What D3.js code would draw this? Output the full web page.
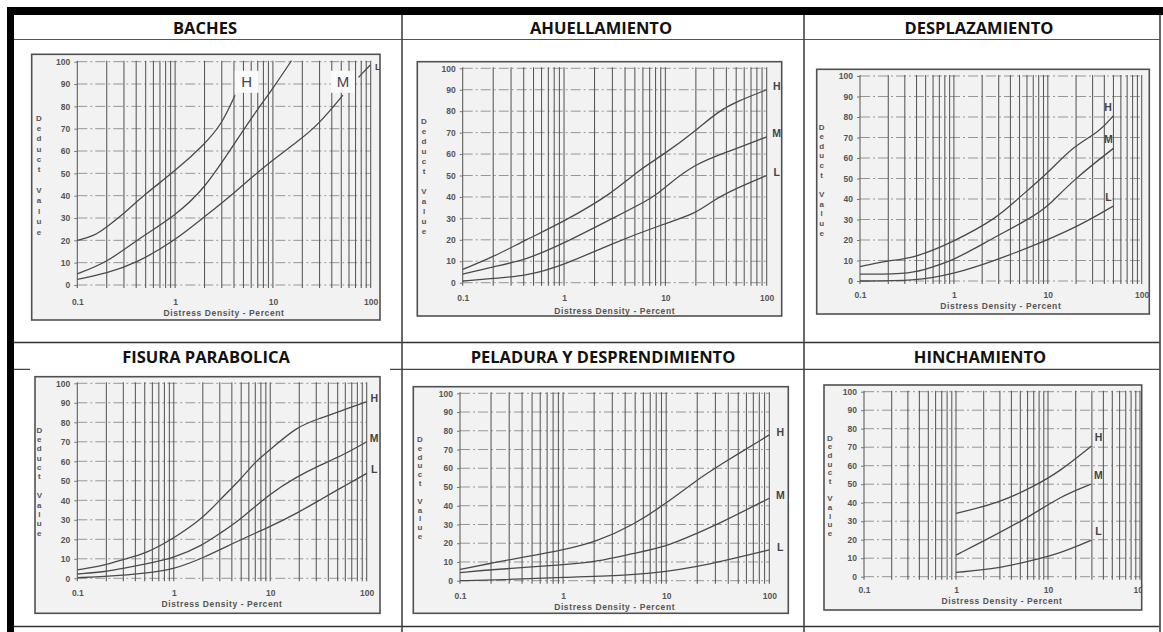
<!DOCTYPE html>
<html><head><meta charset="utf-8">
<script src="https://cdn.jsdelivr.net/npm/d3@7"></script>
<style>body{margin:0;background:#fff}svg{display:block}</style>
</head><body>
<svg id="c" width="1163" height="632"></svg>
<script>
// ---------------- DATA ----------------
const panelTitles = ["BACHES","AHUELLAMIENTO","DESPLAZAMIENTO","FISURA PARABOLICA","PELADURA Y DESPRENDIMIENTO","HINCHAMIENTO"];
const xTickValues = [0.1, 1, 10, 100];
const xTickLabels = ["0.1", "1", "10", "100"];
const yTickValues = [0,10,20,30,40,50,60,70,80,90,100];
const xAxisTitle = "Distress Density - Percent";
const yAxisTitle = "Deduct Value";
const severityLabels = ["H","M","L"];

// BACHES (four visible curve pieces)
const bachesCurveA = [[0.1,20],[0.15,22],[0.2,26],[0.3,32],[0.5,41],[1,51],[2,63],[3,72],[4.1,85]];
const bachesCurveB = [[0.1,5],[0.2,10],[0.4,20],[1,31],[2,43],[4,63],[6.3,76],[10,88],[15.5,100.5]];
const bachesCurveC = [[0.1,2.5],[0.2,5.2],[0.4,9.7],[1,20],[1.8,29],[4,41],[8,53],[19,65],[30,72.4],[52,85]];
const bachesCurveD = [[75,93],[99,98.5]];
const bachesLabelAt = [[5.4,91],[52,91],[118,97.5]];

// AHUELLAMIENTO
const ahuH = [[0.1,6.2],[0.2,12],[0.42,20],[1,28.5],[3,41.7],[5.2,51.8],[10,60.3],[20,71],[33,79.8],[50,84.4],[100,90]];
const ahuM = [[0.1,4],[0.2,7.5],[0.42,10.6],[1,18.4],[3,30],[7.9,40],[10,44.8],[20,55.7],[41,61],[100,68]];
const ahuL = [[0.1,0.8],[0.2,2],[0.42,3.1],[1,8.2],[3,18.4],[10,27.7],[20,32.3],[30,38.6],[50,44],[100,50]];

// DESPLAZAMIENTO
const desH = [[0.1,7],[0.19,9.9],[0.37,11],[1,19.2],[2.85,30.6],[4.6,39.5],[10,52.5],[18.6,65.8],[35.7,72.8],[49.5,80.5]];
const desM = [[0.1,3.4],[0.37,3.4],[0.6,7],[1,10.2],[2.4,20],[7,31.4],[10,36.3],[18.6,49.3],[50,64.7]];
const desL = [[0.1,0],[0.38,0],[1,3.4],[2.85,10.2],[10,20],[23.8,28],[50,36.6]];

// FISURA PARABOLICA
const fisH = [[0.1,4.3],[0.2,6.8],[0.3,9.7],[0.52,12.8],[1,20.5],[2,30.8],[3,40.2],[4.86,50.4],[7.25,60.7],[10,65.8],[18.8,77.8],[32.8,82],[57,86.3],[100,90.6]];
const fisM = [[0.1,2.2],[0.2,3.4],[0.3,5.1],[0.52,7.4],[1,10.3],[2,17],[3,23],[4.86,30],[10,43.6],[18.8,52],[32.8,58],[57,63.2],[100,70]];
const fisL = [[0.1,0.3],[0.2,0.9],[0.52,2.6],[1,4.6],[2,10.3],[4.86,19.7],[10,26.5],[18.8,33.3],[32.8,40.2],[57,47],[100,53.8]];

// PELADURA Y DESPRENDIMIENTO
const pelH = [[0.1,6],[0.21,9.6],[0.41,12.5],[1,16.4],[2.1,20.8],[4.8,29.7],[10,41.3],[19.8,53.7],[33,61.7],[100,77.8]];
const pelM = [[0.1,4.3],[0.21,6],[1,8.4],[2.1,10.1],[4.8,14.6],[10,18.1],[19.8,25.3],[33,30.6],[100,44]];
const pelL = [[0.1,0],[0.24,0.4],[1,1.8],[4.8,3],[10,4.8],[19.8,7.5],[33,10.1],[100,16.4]];

// HINCHAMIENTO
const hinH = [[1,34.2],[2.97,40],[6.9,48.6],[13.4,56.8],[29.7,70.6]];
const hinM = [[1,11.7],[2.1,19.8],[6.3,32.4],[13.4,43.2],[29.7,50.1]];
const hinL = [[1,2.3],[3,4.5],[6.9,9],[13.4,12.6],[29.7,19.8]];

const panelCurves = [
  [bachesCurveA, bachesCurveB, bachesCurveC, bachesCurveD],
  [ahuH, ahuM, ahuL],
  [desH, desM, desL],
  [fisH, fisM, fisL],
  [pelH, pelM, pelL],
  [hinH, hinM, hinL]
];

// ---------------- LAYOUT (pixels) ----------------
const layout = [
  {titleX:205, titleY:27, frame:[31.7,54.3,380,320], plot:[77.3,61.7,370.7,285], tickY:305, axTitleY:316, dvX:39, dvY:[118,232]},
  {titleX:601, titleY:27, frame:[417.3,61.7,781.7,316], plot:[462.7,68.3,766.7,282.7], tickY:301.5, axTitleY:314, dvX:424, dvY:[121.7,231.7], lab:[10,-4]},
  {titleX:979, titleY:27, frame:[816.7,69.3,1149.3,314], plot:[860,76,1141.7,281], tickY:298, axTitleY:309, dvX:821.7, dvY:[127,233], lab:[-5,-9]},
  {titleX:206, titleY:356.5, frame:[35,376.7,380,613.3], plot:[77.3,383.3,366.7,578.3], tickY:596.5, axTitleY:606.5, dvX:39.3, dvY:[430,533.3], lab:[7.5,-4], image:[30,366,390,621]},
  {titleX:603, titleY:356.5, frame:[413.3,386.7,788.3,613.3], plot:[460,393.3,769.3,580.7], tickY:599, axTitleY:609.5, dvX:420, dvY:[439.3,536.7], lab:[11,-3]},
  {titleX:980, titleY:356.5, frame:[824,385,1141.7,610], plot:[864,391.7,1140,576.7], tickY:593, axTitleY:604, dvX:830, dvY:[438.3,533.3], lab:[7,-9.5]}
];

const svg = d3.select("#c");
const defs = svg.append("defs");

// ---------------- TABLE ----------------
const tbl = svg.append("g");
const hline = (y, x0, x1, w, c) => tbl.append("line").attr("x1",x0).attr("x2",x1).attr("y1",y).attr("y2",y).attr("stroke",c).attr("stroke-width",w);
const vline = (x, y0, y1, w, c) => tbl.append("line").attr("x1",x).attr("x2",x).attr("y1",y0).attr("y2",y1).attr("stroke",c).attr("stroke-width",w);
hline(39.5, 14, 1160, 1.2, "#555");
hline(342.5, 14, 1160, 1.6, "#333");
hline(369.3, 14, 1160, 1.2, "#444");
hline(626.5, 14, 1160, 1.6, "#333");
vline(402, 15, 632, 1.6, "#444");
vline(804, 15, 632, 1.6, "#444");
vline(1160, 15, 632, 1.8, "#555");
tbl.append("rect").attr("x",7).attr("y",7).attr("width",1156).attr("height",8).attr("fill","#000");
tbl.append("rect").attr("x",7).attr("y",7).attr("width",7).attr("height",625).attr("fill","#000");

// ---------------- PANELS ----------------
const txtFont = "'Liberation Sans', Arial, sans-serif";
panelCurves.forEach((curves, i) => {
  const L = layout[i];
  const g = svg.append("g");
  g.append("text").attr("x", L.titleX).attr("y", L.titleY).attr("text-anchor","middle")
    .attr("dominant-baseline","central")
    .attr("font-family","'Open Sans', sans-serif").attr("font-weight",700).attr("font-size",16.5)
    .attr("fill","#111").text(panelTitles[i]);
  if (L.image) {
    g.append("rect").attr("x",L.image[0]).attr("y",L.image[1]).attr("width",L.image[2]-L.image[0]).attr("height",L.image[3]-L.image[1]).attr("fill","#fff");
  }
  const [fx0, fy0, fx1, fy1] = L.frame;
  const cid = "clip" + i;
  defs.append("clipPath").attr("id", cid).append("rect").attr("x",fx0).attr("y",fy0).attr("width",fx1-fx0).attr("height",fy1-fy0);
  g.append("rect").attr("x",fx0).attr("y",fy0).attr("width",fx1-fx0).attr("height",fy1-fy0).attr("fill","#f2f2f2");
  const inner = g.append("g").attr("clip-path", `url(#${cid})`);

  const x = d3.scaleLog().domain([0.1, 100]).range([L.plot[0], L.plot[2]]);
  const y = d3.scaleLinear().domain([0, 100]).range([L.plot[3], L.plot[1]]);

  inner.append("g").selectAll("line").data(yTickValues).join("line")
    .attr("x1", L.plot[0]).attr("x2", L.plot[2]).attr("y1", d=>y(d)).attr("y2", d=>y(d))
    .attr("stroke","#969696").attr("stroke-width",1).attr("stroke-dasharray","10,3,2,3");
  inner.append("g").selectAll("line").data(x.ticks()).join("line")
    .attr("x1", d=>x(d)).attr("x2", d=>x(d)).attr("y1", L.plot[1]-1).attr("y2", L.plot[3]+3)
    .attr("stroke","#585858").attr("stroke-width",1.05);

  const ya = inner.append("g").attr("transform",`translate(${L.plot[0]},0)`)
    .call(d3.axisLeft(y).tickValues(yTickValues).tickSize(3).tickPadding(4));
  ya.select(".domain").remove();
  ya.selectAll("line").attr("stroke","#777");
  ya.selectAll("text").attr("font-family",txtFont).attr("font-weight",700).attr("font-size",8.5).attr("fill","#555");
  const xa = inner.append("g").attr("transform",`translate(0,${L.plot[3]})`)
    .call(d3.axisBottom(x).tickValues(xTickValues).tickFormat((d,k)=>xTickLabels[k]).tickSize(0).tickPadding(L.tickY - L.plot[3] - 6.2));
  xa.select(".domain").remove();
  xa.selectAll("text").attr("font-family",txtFont).attr("font-weight",700).attr("font-size",8.5).attr("fill","#555");
  inner.append("text").attr("x",(L.plot[0]+L.plot[2])/2).attr("y",L.axTitleY).attr("text-anchor","middle")
    .attr("font-family",txtFont).attr("font-weight",700).attr("font-size",8.5).attr("letter-spacing",0.6)
    .attr("fill","#555").text(xAxisTitle);
  const letters = yAxisTitle.split("");
  const step = (L.dvY[1]-L.dvY[0])/(letters.length-1);
  inner.append("g").selectAll("text").data(letters).join("text")
    .attr("x", L.dvX).attr("y", (d,k)=>L.dvY[0]+k*step).attr("text-anchor","middle").attr("dominant-baseline","central")
    .attr("font-family",txtFont).attr("font-weight",700).attr("font-size",8).attr("fill","#555").text(d=>d);

  const line = d3.line().x(d=>x(d[0])).y(d=>y(d[1])).curve(d3.curveBasis);
  inner.append("g").selectAll("path").data(curves).join("path")
    .attr("d", line).attr("fill","none").attr("stroke","#4a4a4a").attr("stroke-width",1.3);

  if (i === 0) {
    bachesLabelAt.forEach((p, k) => {
      const big = k < 2;
      if (big) {
        inner.append("rect").attr("x", x(p[0])-12).attr("y", y(p[1])-11).attr("width",24).attr("height",22).attr("fill","#fbfbfb");
      }
      inner.append("text").attr("x", x(p[0])).attr("y", y(p[1])).attr("text-anchor","middle").attr("dominant-baseline","central")
        .attr("font-family",txtFont).attr("font-size", big ? 15 : 9).attr("font-weight", big ? 400 : 700)
        .attr("fill","#444").text(severityLabels[k]);
    });
  } else {
    curves.forEach((c, k) => {
      const last = c[c.length-1];
      inner.append("text").attr("x", x(last[0]) + L.lab[0]).attr("y", y(last[1]) + L.lab[1])
        .attr("text-anchor","middle").attr("dominant-baseline","central")
        .attr("font-family",txtFont).attr("font-weight",700).attr("font-size",10.5).attr("fill","#444")
        .text(severityLabels[k]);
    });
  }
  g.append("rect").attr("x",fx0).attr("y",fy0).attr("width",fx1-fx0).attr("height",fy1-fy0)
    .attr("fill","none").attr("stroke","#505050").attr("stroke-width",1.6);
});
</script>
</body></html>
